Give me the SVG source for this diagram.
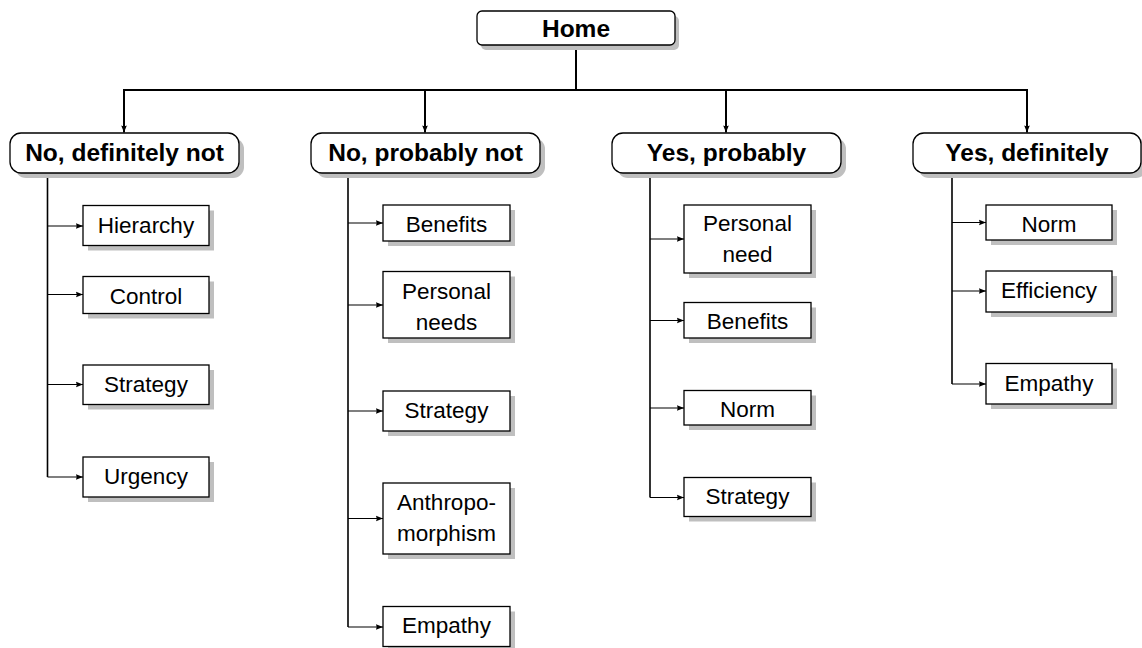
<svg xmlns="http://www.w3.org/2000/svg" width="1142" height="648" viewBox="0 0 1142 648">
  <style>
    text { font-family: "Liberation Sans", Arial, sans-serif; fill: #000; text-anchor: middle; }
    .head { font-size: 24.5px; font-weight: bold; }
    .leaf { font-size: 22.5px; }
    .box { fill: #fff; stroke: #000; stroke-width: 1.3; }
    .shadow { fill: #bfbfbf; stroke: none; }
    .thick { fill: none; stroke: #000; stroke-width: 2; }
    .trunk { fill: none; stroke: #000; stroke-width: 1.6; }
    .branch { fill: none; stroke: #000; stroke-width: 1.1; }
  </style>
  <defs>
    <marker id="tip" viewBox="0 0 10 10" refX="10" refY="5" markerUnits="userSpaceOnUse" markerWidth="9" markerHeight="7" orient="auto">
      <path d="M0,1 L10,5 L0,9 Q2,5 0,1 Z" fill="#000"/>
    </marker>
  </defs>

  <!-- connectors -->
  <g id="connectors">
    <path class="thick" d="M576,45 V90"/>
    <path class="thick" d="M123,90 H1028"/>
    <path class="thick" d="M124,90 V132.5" marker-end="url(#tip)"/>
    <path class="thick" d="M425,90 V132.5" marker-end="url(#tip)"/>
    <path class="thick" d="M726,90 V132.5" marker-end="url(#tip)"/>
    <path class="thick" d="M1027,90 V132.5" marker-end="url(#tip)"/>

    <path class="trunk" d="M47.5,173 V477"/>
    <path class="trunk" d="M348,173 V627"/>
    <path class="trunk" d="M650,174 V497.5"/>
    <path class="trunk" d="M952,174 V384"/>

    <path class="branch" d="M47.5,226 H83" marker-end="url(#tip)"/>
    <path class="branch" d="M47.5,294.5 H83" marker-end="url(#tip)"/>
    <path class="branch" d="M47.5,384.5 H83" marker-end="url(#tip)"/>
    <path class="branch" d="M47.5,477 H83" marker-end="url(#tip)"/>

    <path class="branch" d="M348,223 H383" marker-end="url(#tip)"/>
    <path class="branch" d="M348,305 H383" marker-end="url(#tip)"/>
    <path class="branch" d="M348,411 H383" marker-end="url(#tip)"/>
    <path class="branch" d="M348,518.5 H383" marker-end="url(#tip)"/>
    <path class="branch" d="M348,627 H383" marker-end="url(#tip)"/>

    <path class="branch" d="M650,239 H684" marker-end="url(#tip)"/>
    <path class="branch" d="M650,320.5 H684" marker-end="url(#tip)"/>
    <path class="branch" d="M650,408 H684" marker-end="url(#tip)"/>
    <path class="branch" d="M650,497.5 H684" marker-end="url(#tip)"/>

    <path class="branch" d="M952,222.5 H986" marker-end="url(#tip)"/>
    <path class="branch" d="M952,291 H986" marker-end="url(#tip)"/>
    <path class="branch" d="M952,384 H986" marker-end="url(#tip)"/>
  </g>

  <!-- root -->
  <g id="home">
    <rect class="shadow" x="481" y="16" width="198" height="34" rx="5"/>
    <rect class="box" x="477" y="11" width="198" height="34" rx="5"/>
    <text class="head" x="576" y="37">Home</text>
  </g>

  <!-- answer categories -->
  <g id="no-definitely-not">
    <rect class="shadow" x="15" y="138" width="229" height="40" rx="11"/>
    <rect class="box" x="10" y="133" width="229" height="40" rx="11"/>
    <text class="head" x="124.5" y="161">No, definitely not</text>
  </g>
  <g id="no-probably-not">
    <rect class="shadow" x="316" y="138" width="229" height="40" rx="11"/>
    <rect class="box" x="311" y="133" width="229" height="40" rx="11"/>
    <text class="head" x="425.5" y="161">No, probably not</text>
  </g>
  <g id="yes-probably">
    <rect class="shadow" x="617" y="138" width="229" height="40" rx="11"/>
    <rect class="box" x="612" y="133" width="229" height="40" rx="11"/>
    <text class="head" x="726.5" y="161">Yes, probably</text>
  </g>
  <g id="yes-definitely">
    <rect class="shadow" x="918" y="138" width="229" height="40" rx="11"/>
    <rect class="box" x="913" y="133" width="228" height="40" rx="11"/>
    <text class="head" x="1027" y="161">Yes, definitely</text>
  </g>

  <!-- column 1 -->
  <g id="c1-hierarchy">
    <rect class="shadow" x="88" y="210.5" width="126" height="40"/>
    <rect class="box" x="83" y="205.5" width="126" height="40"/>
    <text class="leaf" x="146" y="232.5">Hierarchy</text>
  </g>
  <g id="c1-control">
    <rect class="shadow" x="88" y="281.5" width="126" height="37"/>
    <rect class="box" x="83" y="276.5" width="126" height="37"/>
    <text class="leaf" x="146" y="304">Control</text>
  </g>
  <g id="c1-strategy">
    <rect class="shadow" x="88" y="370" width="126" height="39.5"/>
    <rect class="box" x="83" y="365" width="126" height="39.5"/>
    <text class="leaf" x="146" y="392">Strategy</text>
  </g>
  <g id="c1-urgency">
    <rect class="shadow" x="88" y="462" width="126" height="40"/>
    <rect class="box" x="83" y="457" width="126" height="40"/>
    <text class="leaf" x="146" y="484">Urgency</text>
  </g>

  <!-- column 2 -->
  <g id="c2-benefits">
    <rect class="shadow" x="388" y="210" width="127" height="36"/>
    <rect class="box" x="383" y="205" width="127" height="36"/>
    <text class="leaf" x="446.5" y="231.5">Benefits</text>
  </g>
  <g id="c2-personal-needs">
    <rect class="shadow" x="388" y="276.5" width="127" height="66.5"/>
    <rect class="box" x="383" y="271.5" width="127" height="66.5"/>
    <text class="leaf" x="446.5" y="299">Personal</text>
    <text class="leaf" x="446.5" y="330">needs</text>
  </g>
  <g id="c2-strategy">
    <rect class="shadow" x="388" y="396" width="127" height="40"/>
    <rect class="box" x="383" y="391" width="127" height="40"/>
    <text class="leaf" x="446.5" y="418">Strategy</text>
  </g>
  <g id="c2-anthropomorphism">
    <rect class="shadow" x="388" y="488" width="127" height="71"/>
    <rect class="box" x="383" y="483" width="127" height="71"/>
    <text class="leaf" x="446.5" y="509.5">Anthropo-</text>
    <text class="leaf" x="446.5" y="540.5">morphism</text>
  </g>
  <g id="c2-empathy">
    <rect class="shadow" x="388" y="611.5" width="127" height="40"/>
    <rect class="box" x="383" y="606.5" width="127" height="40"/>
    <text class="leaf" x="446.5" y="633">Empathy</text>
  </g>

  <!-- column 3 -->
  <g id="c3-personal-need">
    <rect class="shadow" x="689" y="210" width="127" height="68"/>
    <rect class="box" x="684" y="205" width="127" height="68"/>
    <text class="leaf" x="747.5" y="231">Personal</text>
    <text class="leaf" x="747.5" y="262">need</text>
  </g>
  <g id="c3-benefits">
    <rect class="shadow" x="689" y="307.5" width="127" height="35.5"/>
    <rect class="box" x="684" y="302.5" width="127" height="35.5"/>
    <text class="leaf" x="747.5" y="329">Benefits</text>
  </g>
  <g id="c3-norm">
    <rect class="shadow" x="689" y="395.5" width="127" height="34.5"/>
    <rect class="box" x="684" y="390.5" width="127" height="34.5"/>
    <text class="leaf" x="747.5" y="416.5">Norm</text>
  </g>
  <g id="c3-strategy">
    <rect class="shadow" x="689" y="482.5" width="127" height="39"/>
    <rect class="box" x="684" y="477.5" width="127" height="39"/>
    <text class="leaf" x="747.5" y="504">Strategy</text>
  </g>

  <!-- column 4 -->
  <g id="c4-norm">
    <rect class="shadow" x="991" y="210" width="126" height="35"/>
    <rect class="box" x="986" y="205" width="126" height="35"/>
    <text class="leaf" x="1049" y="231.5">Norm</text>
  </g>
  <g id="c4-efficiency">
    <rect class="shadow" x="991" y="276" width="126" height="41"/>
    <rect class="box" x="986" y="271" width="126" height="41"/>
    <text class="leaf" x="1049" y="298">Efficiency</text>
  </g>
  <g id="c4-empathy">
    <rect class="shadow" x="991" y="368.5" width="126" height="40.5"/>
    <rect class="box" x="986" y="363.5" width="126" height="40.5"/>
    <text class="leaf" x="1049" y="391">Empathy</text>
  </g>
</svg>
